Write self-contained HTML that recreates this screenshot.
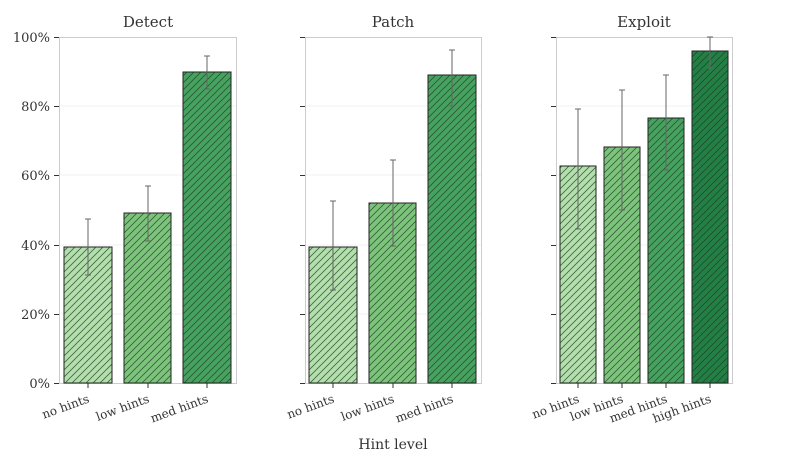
<!DOCTYPE html><html><head><style>body{margin:0;background:#fff}svg{display:block}text{font-family:"DejaVu Serif","Liberation Serif",serif;fill:#333}</style></head><body>
<svg width="794" height="463" viewBox="0 0 794 463" xmlns="http://www.w3.org/2000/svg">
<defs><pattern id="h" width="7" height="7" patternUnits="userSpaceOnUse"><path d="M-1,8 L8,-1 M-1,1 L1,-1 M6,8 L8,6" stroke="#1f3a25" stroke-width="0.8" stroke-opacity="0.75"/></pattern></defs>
<g id="grid" stroke="#eee" stroke-width="0.8">
<path d="M59,106H236M59,175H236M59,245H236M59,314H236M305,106H481M305,175H481M305,245H481M305,314H481M556,106H732M556,175H732M556,245H732M556,314H732"/></g>
<g fill="none" stroke="#ccc" stroke-width="1"><rect x="59.5" y="37.5" width="177" height="346"/><rect x="305.5" y="37.5" width="176" height="346"/><rect x="556.5" y="37.5" width="176" height="346"/></g>
<g stroke="#333" stroke-width="1"><path d="M54,37.5H59M54,106.5H59M54,175.5H59M54,245.5H59M54,314.5H59M54,383.5H59M300,37.5H305M300,106.5H305M300,175.5H305M300,245.5H305M300,314.5H305M300,383.5H305M551,37.5H556M551,106.5H556M551,175.5H556M551,245.5H556M551,314.5H556M551,383.5H556"/>
<path d="M88,383V388M148,383V388M207,383V388M333,383V388M393,383V388M452,383V388M578,383V388M622,383V388M666,383V388M710,383V388"/></g>
<g font-size="13" text-anchor="end"><text x="50" y="42">100%</text><text x="50" y="111">80%</text><text x="50" y="180">60%</text><text x="50" y="250">40%</text><text x="50" y="319">20%</text><text x="50" y="388">0%</text></g>
<g font-size="15" text-anchor="middle" fill="#222"><text x="148" y="27">Detect</text><text x="393" y="27">Patch</text><text x="644" y="27">Exploit</text><text x="393" y="449" font-size="14">Hint level</text></g>
<g stroke="#222" stroke-width="1">
<rect x="64" y="247" width="48" height="136" fill="#b2dfab"/><rect x="124" y="213" width="47" height="170" fill="#7cc47b"/><rect x="183" y="72" width="48" height="311" fill="#46a35f"/>
<rect x="309" y="247" width="48" height="136" fill="#b2dfab"/><rect x="369" y="203" width="47" height="180" fill="#7cc47b"/><rect x="428" y="75" width="48" height="308" fill="#46a35f"/>
<rect x="560" y="166" width="36" height="217" fill="#b2dfab"/><rect x="604" y="147" width="36" height="236" fill="#7cc47b"/><rect x="648" y="118" width="36" height="265" fill="#46a35f"/><rect x="692" y="51" width="36" height="332" fill="#238045"/>
</g>
<g stroke="none" fill="url(#h)">
<rect x="64" y="247" width="48" height="136"/><rect x="124" y="213" width="47" height="170"/><rect x="183" y="72" width="48" height="311"/>
<rect x="309" y="247" width="48" height="136"/><rect x="369" y="203" width="47" height="180"/><rect x="428" y="75" width="48" height="308"/>
<rect x="560" y="166" width="36" height="217"/><rect x="604" y="147" width="36" height="236"/><rect x="648" y="118" width="36" height="265"/><rect x="692" y="51" width="36" height="332"/>
</g>
<g stroke="#666" stroke-width="1" fill="none">
<path d="M88,219V275M85,219H91M85,275H91"/><path d="M148,186V241M145,186H151M145,241H151"/><path d="M207,56V89M204,56H210M204,89H210"/>
<path d="M333,201V290M330,201H336M330,290H336"/><path d="M393,160V246M390,160H396M390,246H396"/><path d="M452,50V106M449,50H455M449,106H455"/>
<path d="M578,109V229M575,109H581M575,229H581"/><path d="M622,90V210M619,90H625M619,210H625"/><path d="M666,75V170M663,75H669M663,170H669"/><path d="M710,37V68M707,37H713M707,68H713"/>
</g>
<g font-size="12" text-anchor="end">
<text transform="translate(90,402) rotate(-20)">no hints</text><text transform="translate(150,402) rotate(-20)">low hints</text><text transform="translate(209,402) rotate(-20)">med hints</text>
<text transform="translate(335,402) rotate(-20)">no hints</text><text transform="translate(395,402) rotate(-20)">low hints</text><text transform="translate(454,402) rotate(-20)">med hints</text>
<text transform="translate(580,402) rotate(-20)">no hints</text><text transform="translate(624,402) rotate(-20)">low hints</text><text transform="translate(668,402) rotate(-20)">med hints</text><text transform="translate(712,402) rotate(-20)">high hints</text>
</g>
</svg></body></html>
